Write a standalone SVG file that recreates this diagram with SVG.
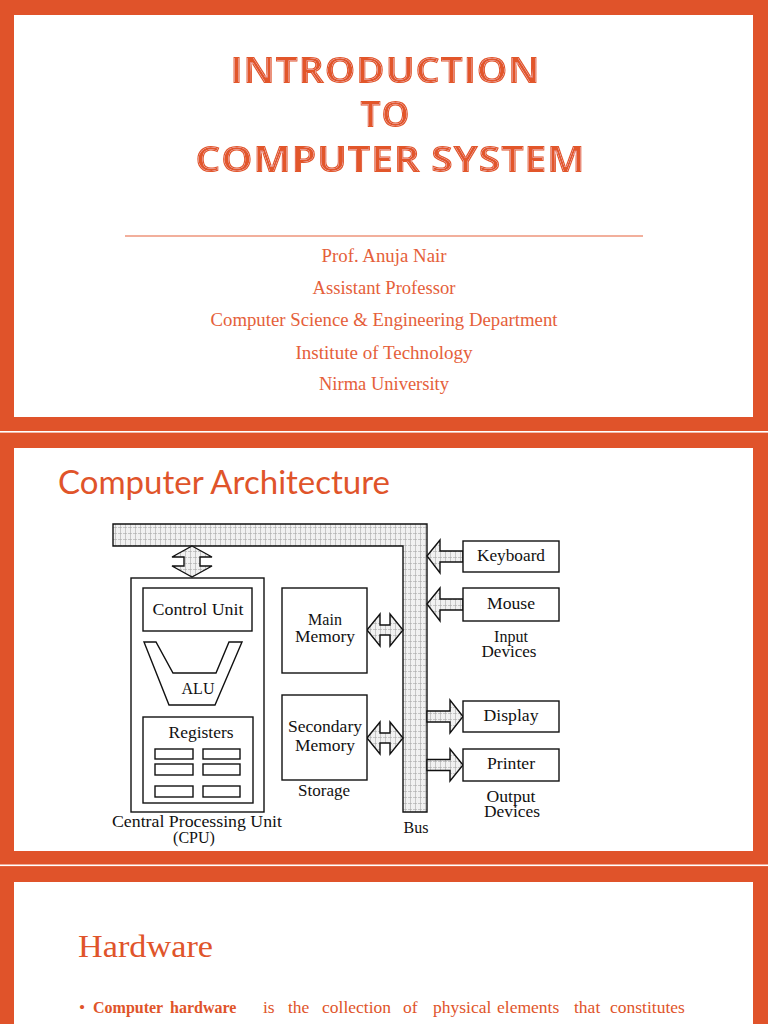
<svg xmlns="http://www.w3.org/2000/svg" width="768" height="1024" viewBox="0 0 768 1024">
<defs>
<style>
.lbl{font-family:"Liberation Serif","Times New Roman",serif;font-size:16px;fill:#111;text-anchor:middle}
.box{fill:#fff;stroke:#111;stroke-width:1.4}
.pat{fill:url(#grid);stroke:#111;stroke-width:1.4;stroke-linejoin:miter}
.title{font-family:"Open Sans","Liberation Sans",sans-serif;font-weight:bold;font-size:36px;fill:#E2562B;text-anchor:middle;filter:url(#inline)}
.sub{font-family:"Liberation Serif","Times New Roman",serif;font-size:18px;fill:#E5603A;text-anchor:middle}
.body{font-family:"Liberation Serif","Times New Roman",serif;font-size:17.5px;fill:#E0542A}
.bold{font-weight:bold;font-size:16px}
</style>
<filter id="inline" x="-5%" y="-20%" width="110%" height="140%">
<feMorphology in="SourceAlpha" operator="erode" radius="0.7" result="e1"/>
<feMorphology in="SourceAlpha" operator="erode" radius="1.3" result="e2"/>
<feComposite in="e1" in2="e2" operator="out" result="ring"/>
<feFlood flood-color="#ffffff" flood-opacity="0.9"/>
<feComposite in2="ring" operator="in" result="wring"/>
<feMerge><feMergeNode in="SourceGraphic"/><feMergeNode in="wring"/></feMerge>
</filter>
<pattern id="grid" width="5" height="6" patternUnits="userSpaceOnUse">
<rect width="5" height="6" fill="#f1f1f1"/>
<path d="M0.5 0V6" stroke="#c6c6c6" stroke-width="1"/>
<path d="M0 5.5H5" stroke="#a8a8a8" stroke-width="0.6" stroke-dasharray="2 1"/>
</pattern>
</defs>

<!-- slide frames -->
<rect x="0" y="0" width="768" height="1024" fill="#E0532A"/>
<rect x="0" y="431" width="768" height="1.6" fill="#fff"/>
<rect x="0" y="864.5" width="768" height="1.6" fill="#fff"/>
<rect x="14" y="15" width="739" height="402" fill="#fff"/>
<rect x="14" y="448" width="739" height="403" fill="#fff"/>
<rect x="14" y="882" width="739" height="150" fill="#fff"/>

<!-- slide 1 -->
<g id="title-slide">
<text class="title" x="385" y="83" textLength="310" lengthAdjust="spacingAndGlyphs">INTRODUCTION</text>
<text class="title" x="385" y="127" textLength="50" lengthAdjust="spacingAndGlyphs">TO</text>
<text class="title" x="390" y="172" textLength="390" lengthAdjust="spacingAndGlyphs">COMPUTER SYSTEM</text>
<line x1="125" y1="236" x2="643" y2="236" stroke="#E5603A" stroke-width="1.2"/>
<text class="sub" x="384" y="262" textLength="125" lengthAdjust="spacingAndGlyphs">Prof. Anuja Nair</text>
<text class="sub" x="384" y="294" textLength="143" lengthAdjust="spacingAndGlyphs">Assistant Professor</text>
<text class="sub" x="384" y="326" textLength="347" lengthAdjust="spacingAndGlyphs">Computer Science &amp; Engineering Department</text>
<text class="sub" x="384" y="359" textLength="177" lengthAdjust="spacingAndGlyphs">Institute of Technology</text>
<text class="sub" x="384" y="390" textLength="130" lengthAdjust="spacingAndGlyphs">Nirma University</text>
</g>

<!-- slide 2 -->
<text x="58" y="494" font-family="Lato,'Open Sans',sans-serif" font-size="32" fill="#E0542A" textLength="332" lengthAdjust="spacingAndGlyphs">Computer Architecture</text>

<g id="connectors">
<polygon id="bus" class="pat" points="113,524 427,524 427,812 403,812 403,546 113,546"/>
<polygon class="pat" points="192,546 212,557 200,557 200,566 212,566 192,577 172,566 184,566 184,557 172,557"/>
<polygon class="pat" points="367,630 380,614 380,625 390,625 390,614 403,630 390,646 390,635 380,635 380,646"/>
<polygon class="pat" points="367,738 380,722 380,733 390,733 390,722 403,738 390,754 390,743 380,743 380,754"/>
<polygon class="pat" points="427,556 440,540 440,551 463,551 463,562 440,562 440,573"/>
<polygon class="pat" points="427,604 440,588 440,599 463,599 463,610 440,610 440,621"/>
<polygon class="pat" points="427,711 450,711 450,700 463,716.5 450,733 450,722 427,722"/>
<polygon class="pat" points="427,759.5 450,759.5 450,749 463,765 450,781 450,770.5 427,770.5"/>
<text class="lbl" x="416" y="833">Bus</text>
</g>

<g id="cpu">
<rect class="box" x="131" y="578" width="133" height="234"/>
<text class="lbl" x="197" y="827" textLength="170" lengthAdjust="spacingAndGlyphs">Central Processing Unit</text>
<text class="lbl" x="194" y="843">(CPU)</text>
</g>
<g id="control-unit">
<rect class="box" x="143" y="588" width="109" height="43"/>
<text class="lbl" x="198" y="615" textLength="91" lengthAdjust="spacingAndGlyphs">Control Unit</text>
</g>
<g id="alu">
<polygon class="box" points="144,642 156,642 173,673 216,673 229,642 242,642 215,705 169,705"/>
<text class="lbl" x="198" y="694">ALU</text>
</g>
<g id="registers">
<rect class="box" x="143" y="717" width="110" height="86"/>
<text class="lbl" x="201" y="738" textLength="65" lengthAdjust="spacingAndGlyphs">Registers</text>
<rect class="box" x="155" y="749" width="38" height="10"/>
<rect class="box" x="203" y="749" width="37" height="10"/>
<rect class="box" x="155" y="764" width="38" height="11"/>
<rect class="box" x="203" y="764" width="37" height="11"/>
<rect class="box" x="155" y="786" width="38" height="11"/>
<rect class="box" x="203" y="786" width="37" height="11"/>
</g>
<g id="main-memory">
<rect class="box" x="282" y="588" width="85" height="85"/>
<text class="lbl" x="325" y="625">Main</text>
<text class="lbl" x="325" y="642" textLength="60" lengthAdjust="spacingAndGlyphs">Memory</text>
</g>
<g id="secondary-memory">
<rect class="box" x="282" y="695" width="85" height="85"/>
<text class="lbl" x="325" y="732" textLength="74" lengthAdjust="spacingAndGlyphs">Secondary</text>
<text class="lbl" x="325" y="751" textLength="60" lengthAdjust="spacingAndGlyphs">Memory</text>
<text class="lbl" x="324" y="796" textLength="52" lengthAdjust="spacingAndGlyphs">Storage</text>
</g>
<g id="keyboard">
<rect class="box" x="463" y="541" width="96" height="31"/>
<text class="lbl" x="511" y="561" textLength="68" lengthAdjust="spacingAndGlyphs">Keyboard</text>
</g>
<g id="mouse">
<rect class="box" x="463" y="588" width="96" height="33"/>
<text class="lbl" x="511" y="609" textLength="48" lengthAdjust="spacingAndGlyphs">Mouse</text>
<text class="lbl" x="511" y="642">Input</text>
<text class="lbl" x="509" y="657" textLength="55" lengthAdjust="spacingAndGlyphs">Devices</text>
</g>
<g id="display">
<rect class="box" x="463" y="701" width="96" height="31"/>
<text class="lbl" x="511" y="721" textLength="55" lengthAdjust="spacingAndGlyphs">Display</text>
</g>
<g id="printer">
<rect class="box" x="463" y="749" width="96" height="32"/>
<text class="lbl" x="511" y="769" textLength="48" lengthAdjust="spacingAndGlyphs">Printer</text>
<text class="lbl" x="511" y="802" textLength="49" lengthAdjust="spacingAndGlyphs">Output</text>
<text class="lbl" x="512" y="817" textLength="56" lengthAdjust="spacingAndGlyphs">Devices</text>
</g>

<!-- slide 3 -->
<g id="hardware-slide">
<text x="78" y="957" font-family="'Liberation Serif',serif" font-size="32" fill="#E0542A" textLength="135" lengthAdjust="spacingAndGlyphs">Hardware</text>
<text class="body" x="79" y="1013">•</text>
<text class="body bold" y="1013"><tspan x="93">Computer</tspan><tspan x="170">hardware</tspan></text>
<text class="body" y="1013"><tspan x="263">is</tspan><tspan x="288">the</tspan><tspan x="322">collection</tspan><tspan x="403">of</tspan><tspan x="433">physical</tspan><tspan x="497">elements</tspan><tspan x="574">that</tspan><tspan x="610">constitutes</tspan></text>
<text class="body" x="93" y="1035">a computer system.</text>
</g>
</svg>
